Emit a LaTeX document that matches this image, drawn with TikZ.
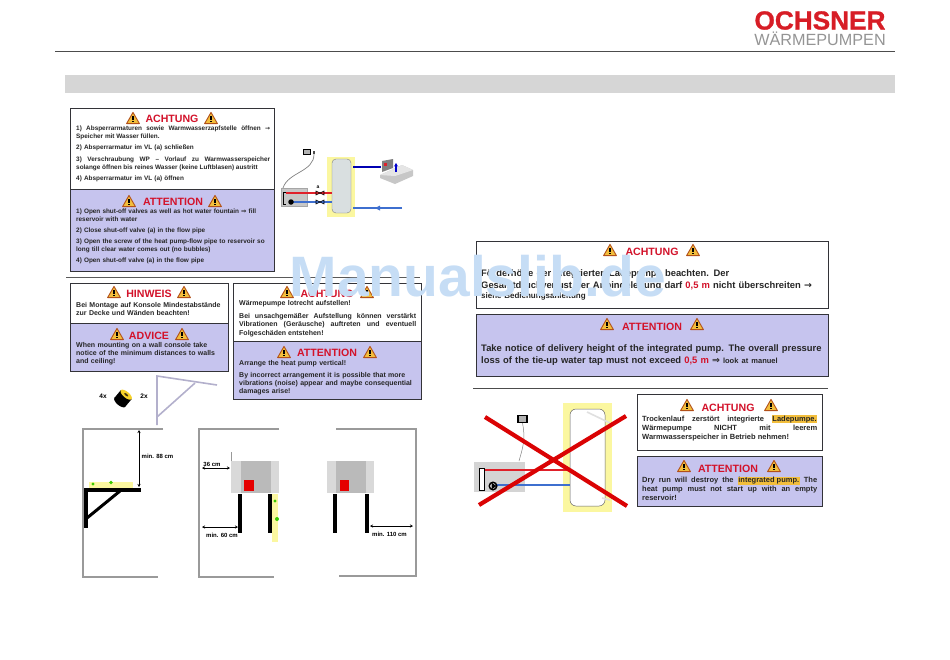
\documentclass[tikz,border=0pt]{standalone}
\usepackage{fontspec}
\setmainfont{Liberation Sans}
\newfontfamily\djv{DejaVu Sans}
\newfontfamily\logofont[FakeBold=1]{Liberation Sans Bold}
\usetikzlibrary{arrows.meta}
\hyphenpenalty=10000
\exhyphenpenalty=10000
\tolerance=9999
\definecolor{panel}{HTML}{C6C4EE}
\definecolor{wallgrey}{HTML}{9A9A9A}
\definecolor{edge}{HTML}{333338}
\definecolor{titlered}{HTML}{D3122A}
\definecolor{tankyellow}{HTML}{FBF7A0}
\definecolor{hl}{HTML}{F2BE3C}
\definecolor{pipered}{HTML}{E0202A}
\definecolor{pipeblue}{HTML}{3E6FCF}
\definecolor{stand}{HTML}{B3B0CC}
\definecolor{wmark}{HTML}{C6DDF5}
\definecolor{cablegrey}{HTML}{808080}
\newcommand{\RA}{{\djv\fontsize{6}{8}\selectfont →}}
\newcommand{\DA}{{\djv ⇒}}
\newcommand{\HL}[1]{{\setlength{\fboxsep}{0.6pt}\colorbox{hl}{#1}}}
\tikzset{
  x=1pt,y=-1pt,
  whitebox/.style={draw=edge,line width=0.9pt,fill=white},
  bluebox/.style={draw=edge,line width=0.9pt,fill=panel},
  boxtitle/.style={font=\fontsize{10.6}{12}\selectfont\bfseries,text=titlered,inner sep=0pt,anchor=center},
  para/.style={text=black!85,inner sep=0pt,anchor=west,align=justify,text width=#1},
  plain/.style={text=black!85,inner sep=0pt,anchor=west,align=left,text width=#1},
  fa/.style={font=\fontsize{6.4}{7.8}\selectfont\bfseries},
  fb/.style={font=\fontsize{7}{8.1}\selectfont\bfseries},
  fc/.style={font=\fontsize{7}{8.3}\selectfont\bfseries},
  fd/.style={font=\fontsize{7.5}{9}\selectfont\bfseries},
  fe/.style={font=\fontsize{9.4}{12}\selectfont\bfseries},
  dim/.style={font=\fontsize{6}{7}\selectfont\rmfamily\bfseries,inner sep=0pt,anchor=center},
  wall/.style={draw=wallgrey,line width=2.4pt},
  leg/.style={draw=black,line width=3.6pt},
  dimarrow/.style={draw=black,line width=0.6pt,{Stealth[length=3pt,width=3pt]}-{Stealth[length=3pt,width=3pt]}},
  warn/.pic={
    \draw[fill=#1,draw=#1!60!black!70!red,line width=0.9pt,line join=round] (-6.4,5.6) -- (0,-5.6) -- (6.4,5.6) -- cycle;
    \fill[black] (-0.7,-2) rectangle (0.7,2.4);
    \fill[black] (-0.7,3.1) rectangle (0.7,4.4);
  }
}
\begin{document}
\begin{tikzpicture}
\useasboundingbox (0,0) rectangle (950,659);
% header
\node[inner sep=0pt,font=\logofont\fontsize{26.2}{28}\selectfont,text=titlered!90!orange] (logo) at (820,20.5) {OCHSNER};
\node[inner sep=0pt,font=\fontsize{16.2}{17}\selectfont,text=black!42] (sub) at (820,39) {WÄRMEPUMPEN};
\draw[black!70,line width=0.7pt] (55,51) -- (895,51);
\fill[black!16] (65,75) rectangle (895,93);
% separators
\draw[black!65,line width=1pt] (66,277) -- (420,277);
\draw[black!70,line width=0.7pt] (473,388) -- (828,388);

% BOX 1
\path[whitebox] (70,108) rectangle (274,189);
\path[bluebox] (70,189) rectangle (274,271);
\node[boxtitle] (t1) at (172,119) {ACHTUNG};
\pic at (133,118) {warn=hl}; \pic at (211,118) {warn=hl};
\node[para=194pt,fa] (p1a) at (76,133) {1) Absperrarmaturen sowie Warmwasserzapfstelle öffnen \RA{}\linebreak Speicher mit Wasser füllen.};
\node[plain=192pt,fa] (p1b) at (76,148) {2) Absperrarmatur im VL (a) schließen};
\node[para=194pt,fa] (p1c) at (76,164) {3) Verschraubung WP – Vorlauf zu Warmwasserspeicher\linebreak solange öffnen bis reines Wasser (keine Luftblasen) austritt};
\node[plain=192pt,fa] (p1d) at (76,179) {4) Absperrarmatur im VL (a) öffnen};
\node[boxtitle] (t2) at (173,202) {ATTENTION};
\pic at (129,201) {warn=hl}; \pic at (215,201) {warn=hl};
\node[plain=194pt,fa] (p2a) at (76,215.5) {1) Open shut-off valves as well as hot water fountain \DA{} fill\\reservoir with water};
\node[plain=194pt,fa] (p2b) at (76,231) {2) Close shut-off valve (a) in the flow pipe};
\node[plain=194pt,fa] (p2c) at (76,246) {3) Open the screw of the heat pump-flow pipe to reservoir so\\long till clear water comes out (no bubbles)};
\node[plain=194pt,fa] (p2d) at (76,261) {4) Open shut-off valve (a) in the flow pipe};

% Diagram 1
\fill[black!22,draw=black!35,line width=0.3pt] (281,188) rectangle (307,206);
\draw[black,line width=0.9pt] (286,192) -- (283,192) -- (283,204) -- (286,204);
\fill[tankyellow] (327,157) rectangle (355,217);
\draw[black!50,fill=blue!10!cyan!18!black!15,line width=0.4pt,rounded corners=4pt] (332,159) rectangle (351,213);
\coordinate (pumpA) at (286,193); \coordinate (tankA) at (332,193);
\coordinate (pumpB) at (291,202); \coordinate (tankB) at (332,202);
\draw[pipered,line width=1.6pt] (pumpA) -- (tankA);
\draw[pipeblue,line width=1.6pt] (pumpB) -- (tankB);
\node[circle,fill=black,inner sep=0pt,minimum size=5.5pt] (pump) at (291,202) {};
\foreach \yy in {193,202}{
  \draw[black,line width=0.6pt] (316,\yy-2) -- (324,\yy+2) -- (324,\yy-2) -- (316,\yy+2) -- cycle;
}
\node[inner sep=0pt,font=\fontsize{5}{5}\selectfont\bfseries] (vala) at (318,187) {a};
\node[draw=black,fill=black!30,line width=1.2pt,minimum width=7pt,minimum height=5pt,inner sep=0pt] (sens) at (307,152) {};
\node[fill=black!70,inner sep=0pt,minimum width=2pt,minimum height=3pt] (probe) at (314,152.5) {};
\coordinate (cableEnd) at (283,188);
\draw[cablegrey,line width=0.7pt] (probe.south) .. controls (314,172) and (288,172) .. (cableEnd);
\coordinate (hotA) at (353,167); \coordinate (hotB) at (381,167);
\draw[blue!70!black,line width=1.5pt] (hotA) -- (hotB);
\fill[black!22] (380,175) -- (402,165) -- (413,170) -- (413,176) -- (395,184) -- (380,178) -- cycle;
\fill[black!10] (380,175) -- (402,165) -- (413,170) -- (395,176) -- cycle;
\fill[black!50] (382,161) -- (393,159) -- (393,168) -- (382,172) -- cycle;
\fill[pipered] (384,163) rectangle (387,166);
\draw[blue!80!black,line width=1.4pt,-{Stealth[length=3.5pt,width=4pt]}] (396,172) -- (396,163);
\coordinate (coldA) at (402,208); \coordinate (coldB) at (353,208);
\draw[pipeblue,line width=1.4pt] (coldA) -- (coldB);
\fill[pipeblue] (375,208) -- (380,205.5) -- (380,210.5) -- cycle;

% BOX 2
\path[whitebox] (70,283) rectangle (228,323);
\path[bluebox] (70,323) rectangle (228,371);
\node[boxtitle] (t3) at (149,294) {HINWEIS};
\pic at (114,292) {warn=hl}; \pic at (184,292) {warn=hl};
\node[plain=150pt,fb] (p3) at (76,309) {Bei Montage auf Konsole Mindestabstände\\zur Decke und Wänden beachten!};
\node[boxtitle] (t4) at (149,335.5) {ADVICE};
\pic at (117,334) {warn=hl}; \pic at (182,334) {warn=hl};
\node[plain=150pt,fb] (p4) at (76,354) {When mounting on a wall console take\\notice of the minimum distances to walls\\and ceiling!};

% BOX 3
\path[whitebox] (233,283) rectangle (421,341);
\path[bluebox] (233,341) rectangle (421,399);
\node[boxtitle] (t5) at (327,294) {ACHTUNG};
\pic at (287,292) {warn=hl}; \pic at (367,292) {warn=hl};
\node[plain=176pt,fc] (p5a) at (239,304) {Wärmepumpe lotrecht aufstellen!};
\node[para=177pt,fc] (p5b) at (239,325) {Bei unsachgemäßer Aufstellung können verstärkt\linebreak Vibrationen (Geräusche) auftreten und eventuell\linebreak Folgeschäden entstehen!};
\node[boxtitle] (t6) at (327,353) {ATTENTION};
\pic at (284,352) {warn=hl}; \pic at (370,352) {warn=hl};
\node[plain=176pt,fc] (p6a) at (239,363.5) {Arrange the heat pump vertical!};
\node[plain=176pt,fc] (p6b) at (239,383.5) {By incorrect arrangement it is possible that more\\vibrations (noise) appear and maybe consequential\\damages arise!};

% accessories
\node[inner sep=0pt,font=\fontsize{6.5}{7}\selectfont\bfseries] (n4x) at (103,396) {4x};
\node[inner sep=0pt,font=\fontsize{6.5}{7}\selectfont\bfseries] (n2x) at (144,396) {2x};
\begin{scope}[shift={(123,398.5)},rotate=50]
  \fill[black] (-5,-7) rectangle (5,7);
  \fill[black] (-5,0) ellipse (3 and 7);
  \fill[hl!70!yellow] (5,0) ellipse (3 and 7);
  \fill[black!70!hl] (5,0) ellipse (1 and 2.5);
\end{scope}
\draw[stand,line width=1.6pt] (157,425) -- (157,376) -- (217,385);
\draw[stand,line width=1.6pt] (157,417) -- (195,383);

% ROOM 1
\draw[wall] (163,429) -- (83,429) -- (83,577) -- (158,577);
\fill[tankyellow] (89,482) rectangle (133,488);
\fill[green!70!black!70!lime] (93,484) circle (1.7);
\fill[green!70!black!70!lime] (111,482.5) circle (1.9);
\draw[black,line width=3.4pt] (84,490) -- (141,490);
\draw[black,line width=4pt] (86,490) -- (86,528);
\draw[black,line width=3pt] (87,518) -- (120,491);
\coordinate (c1a) at (139,430); \coordinate (c1b) at (139,487);
\path[dimarrow] (c1a) -- (c1b);
\node[dim] (d1) at (157.5,456) {min. 88 cm};

% ROOM 2
\draw[wall] (279,429) -- (199,429) -- (199,577) -- (274,577);
\draw[black!40,line width=0.4pt] (231,452) -- (231,477);
\fill[black!15] (231,461) rectangle (279,493);
\fill[black!27] (241,461) rectangle (271,493);
\fill[red!90!black] (244,480) rectangle (254,491);
\fill[tankyellow] (272,494) rectangle (278,542);
\path[leg] (240,494) -- (240,533);
\path[leg] (270,494) -- (270,533);
\fill[green!70!black!70!lime] (275,501) circle (1.7);
\fill[green!70!black!70!lime] (277,519) circle (2);
\coordinate (c2a) at (202,468); \coordinate (c2b) at (230,468);
\path[dimarrow] (c2a) -- (c2b);
\node[dim] (d2) at (212,464) {36 cm};
\coordinate (c3a) at (202,527); \coordinate (c3b) at (238,527);
\path[dimarrow] (c3a) -- (c3b);
\node[dim] (d3) at (222,535) {min. 60 cm};

% ROOM 3
\draw[wall] (336,429) -- (416,429) -- (416,576) -- (339,576);
\fill[black!15] (327,461) rectangle (374,493);
\fill[black!27] (336,461) rectangle (366,493);
\fill[red!90!black] (340,480) rectangle (349,491);
\path[leg] (335,494) -- (335,533);
\path[leg] (367,494) -- (367,533);
\coordinate (c4a) at (370,526); \coordinate (c4b) at (413,526);
\path[dimarrow] (c4a) -- (c4b);
\node[dim] (d4) at (389.5,534) {min. 110 cm};

% BOX 4
\path[whitebox] (476,241) rectangle (828,308);
\node[boxtitle] (t7) at (652,252) {ACHTUNG};
\pic at (610,250) {warn=hl}; \pic at (693,250) {warn=hl};
\node[plain=345pt,fe] (p7) at (481,280) {Förderhöhe der integrierten Ladepumpe beachten. Der\\Gesamtdruckverlust der Anbindeleitung darf {\color{titlered}0,5 m} nicht überschreiten {\djv →}};
\node[plain=300pt,font=\fontsize{8}{9}\selectfont\bfseries] (p7b) at (481,296) {siehe Bedienungsanleitung};

% BOX 5
\path[bluebox] (476,314) rectangle (828,376);
\node[boxtitle] (t8) at (652,327) {ATTENTION};
\pic at (607,324) {warn=hl}; \pic at (697,324) {warn=hl};
\node[plain=350pt,fe] (p8) at (481,355) {Take notice of delivery height of the integrated pump. The overall pressure\\loss of the tie-up water tap must not exceed {\color{titlered}0,5 m} \DA{} {\fontsize{7.5}{8}\selectfont look at manuel}};

% Diagram 3
\fill[black!17] (474,462) rectangle (525,492);
\fill[tankyellow] (563,403) rectangle (612,512);
\draw[black!60,fill=white,line width=0.5pt,rounded corners=6pt] (570,409) rectangle (605,506);
\draw[black!12,line width=1.6pt] (587,412) -- (610,423);
\draw[black!12,line width=1.6pt] (602,498) -- (610,500);
\node[draw=black,fill=black!30,line width=1.2pt,minimum width=9pt,minimum height=7pt,inner sep=0pt] (sens3) at (522.5,419) {};
\coordinate (sbox) at (519,461);
\draw[cablegrey,line width=0.5pt] (sens3.south) .. controls (526,440) and (522,450) .. (sbox);
\coordinate (p3a) at (484,470); \coordinate (p3b) at (570,470);
\coordinate (p3c) at (493,485); \coordinate (p3d) at (570,485);
\draw[pipered,line width=1.4pt] (p3a) -- (p3b);
\draw[pipeblue,line width=1.4pt] (p3c) -- (p3d);
\draw[black,fill=white,line width=0.7pt] (479,468) rectangle (484,490);
\node[circle,draw=black,fill=white,line width=1.5pt,inner sep=0pt,minimum size=7.5pt] (pump3) at (493,486) {};
\fill[black] (491.5,482.5) -- (496.5,486) -- (491.5,489.5) -- cycle;
\coordinate (xa) at (485,417); \coordinate (xb) at (627,506);
\coordinate (xc) at (479,505); \coordinate (xd) at (626,416);
\draw[red!85!black!90!pipered,line width=4.2pt] (xa) -- (xb);
\draw[red!85!black!90!pipered,line width=4.2pt] (xc) -- (xd);

% BOX 6
\path[whitebox] (637,394) rectangle (822,450);
\node[boxtitle] (t9) at (728,408) {ACHTUNG};
\pic at (687,405) {warn=hl}; \pic at (771,405) {warn=hl};
\node[para=175pt,fd] (p9) at (642,428) {Trockenlauf zerstört integrierte \HL{Ladepumpe.}\linebreak Wärmepumpe NICHT mit leerem\linebreak Warmwasserspeicher in Betrieb nehmen!};

% BOX 7
\path[bluebox] (637,456) rectangle (822,506);
\node[boxtitle] (t10) at (728,469) {ATTENTION};
\pic at (684,466) {warn=hl}; \pic at (774,466) {warn=hl};
\node[para=175pt,fd] (p10) at (642,489) {Dry run will destroy the \HL{integrated pump.} The\linebreak heat pump must not start up with an empty\linebreak reservoir!};

% watermark
\node[inner sep=0pt,font=\fontsize{57}{60}\selectfont\bfseries,text=wmark] (wm) at (478,276) {Manualslib.de};
\end{tikzpicture}
\end{document}
